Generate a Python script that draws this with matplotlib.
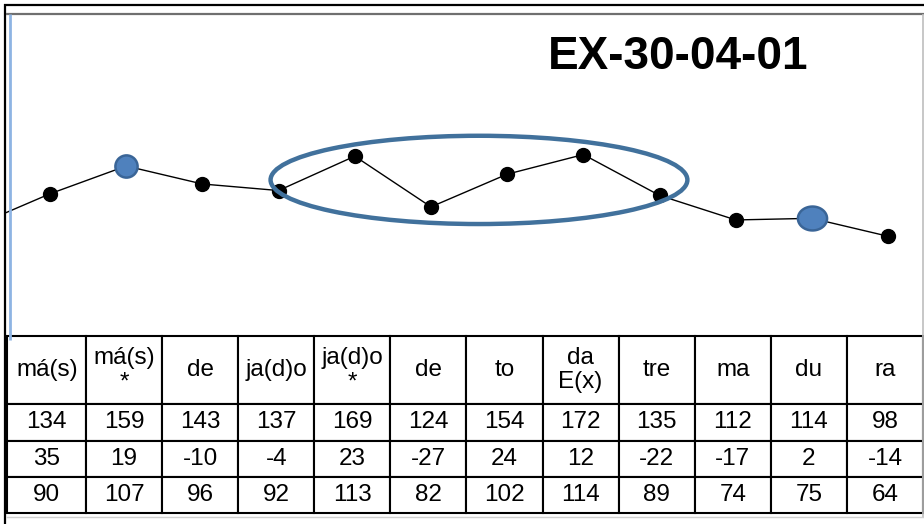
import matplotlib
matplotlib.use("Agg")
import matplotlib.pyplot as plt
from matplotlib.patches import Ellipse
from matplotlib.lines import Line2D
from matplotlib.path import Path
import numpy as np

plt.rcParams['font.family'] = ['Liberation Sans', 'DejaVu Sans']

# ---- data ----
categories = ["má(s)", "má(s)\n*", "de", "ja(d)o", "ja(d)o\n*", "de", "to",
              "da\nE(x)", "tre", "ma", "du", "ra"]
row1 = [134, 159, 143, 137, 169, 124, 154, 172, 135, 112, 114, 98]
row2 = [35, 19, -10, -4, 23, -27, 24, 12, -22, -17, 2, -14]
row3 = [90, 107, 96, 92, 113, 82, 102, 114, 89, 74, 75, 64]
prev_value = 70          # value of the point just before the visible range
highlight_round = 1      # index of round blue marker
highlight_oval = 10      # index of oval blue marker
title = "EX-30-04-01"

W, H = 924, 524
fig = plt.figure(figsize=(W / 100, H / 100), dpi=100)

def fx(px):
    return px / W

def fy(py):
    return 1 - py / H

# ---- main plot axes ----
ax_l, ax_r, ax_t, ax_b = 6, 923, 14, 336
ax = fig.add_axes([fx(ax_l), fy(ax_b), fx(ax_r - ax_l), (ax_b - ax_t) / H])
ax.set_xlim(-0.577, 11.457)
ax.set_ylim(3, 200)
ax.axis('off')

xs = np.arange(len(categories))
line_x = np.concatenate([[-1], xs])
line_y = np.concatenate([[prev_value], row3])
ax.plot(line_x, line_y, color='black', lw=1.0, zorder=2, clip_on=True)
ax.plot(xs, row3, 'o', color='black', ms=10, zorder=3, clip_on=False)

# blue highlighted markers
ax.plot([xs[highlight_round]], [row3[highlight_round]], 'o', ms=16,
        mfc='#4F81BD', mec='#3A6597', mew=1.8, zorder=4)
t = np.linspace(0, 2 * np.pi, 60)
oval = Path(np.column_stack([1.22 * np.cos(t), np.sin(t)]), closed=True)
ax.plot([xs[highlight_oval]], [row3[highlight_oval]], marker=oval, ms=21,
        mfc='#4F81BD', mec='#3A6597', mew=1.8, ls='none', zorder=4)

# ellipse around middle section
ax.add_patch(Ellipse((5.63, 98.5), 5.47, 54, fill=False,
                     edgecolor='#41719C', lw=3.2, zorder=5))

# title
fig.text(fx(678), fy(57), title, ha='center', va='center',
         fontsize=33, fontweight='bold', color='black')

# ---- table ----
t_l, t_r, t_t, t_b = 7.5, 923, 336, 513
tax = fig.add_axes([fx(t_l), fy(t_b), fx(t_r - t_l), (t_b - t_t) / H])
tax.axis('off')
cell_text = [[str(v) for v in row1], [str(v) for v in row2], [str(v) for v in row3]]
col_w = [78.5] + [76.09] * 11
tbl = tax.table(cellText=[categories] + cell_text, cellLoc='center',
                colWidths=[w / sum(col_w) for w in col_w],
                bbox=[0, 0, 1, 1])
tbl.auto_set_font_size(False)
tbl.set_fontsize(17.5)
for (r, c), cell in tbl.get_celld().items():
    cell.set_linewidth(1.5)
    cell.set_edgecolor('black')
    cell.set_height(68 if r == 0 else 36)
    cell.get_text().set_linespacing(1.1)

# ---- frame lines ----
def fline(x0, y0, x1, y1, color, lw):
    fig.add_artist(Line2D([fx(x0), fx(x1)], [fy(y0), fy(y1)], color=color,
                          lw=lw, transform=fig.transFigure, solid_capstyle='butt'))

fline(4, 5, 924, 5, 'black', 1.6)
fline(5, 4, 5, 524, 'black', 1.6)
fline(6, 14, 924, 14, '#6f6f6f', 1.6)
fline(922.5, 14, 922.5, 517, '#bdbdbd', 1.2)
fline(10, 14, 10, 340, '#8EB4E3', 2.0)
fline(6, 517, 924, 517, '#d0d0d0', 1.0)

fig.savefig("out.png", dpi=100)
